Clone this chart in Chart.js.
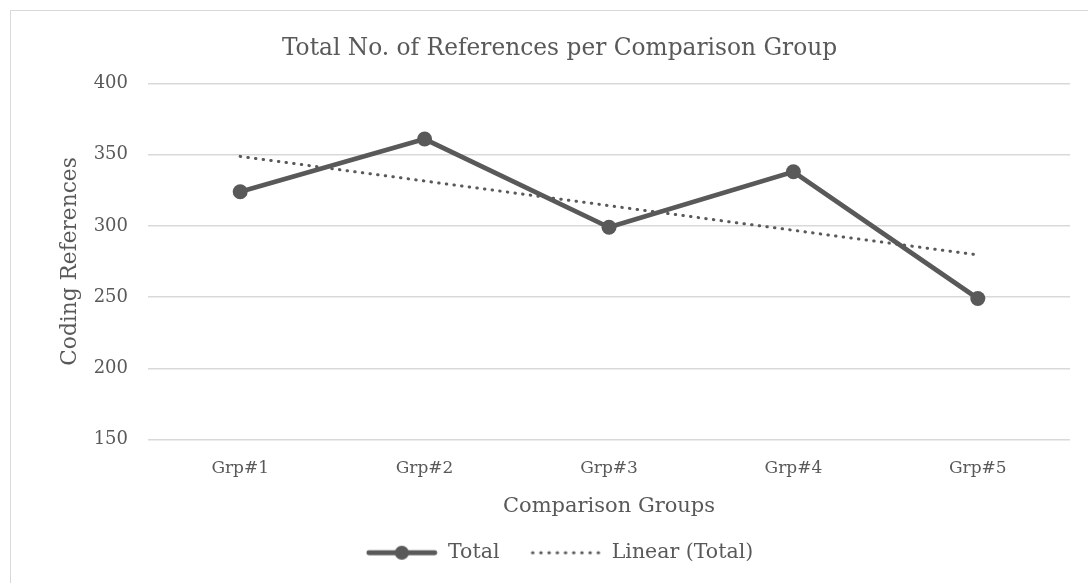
<!DOCTYPE html>
<html>
<head>
<meta charset="utf-8">
<script src="https://cdn.jsdelivr.net/npm/chart.js@4/dist/chart.umd.min.js"></script>
<style>
  html, body { margin: 0; padding: 0; background: #fff; overflow: hidden; }
  #frame {
    position: absolute; left: 10px; top: 10px;
    width: 1100px; height: 600px;
    border: 1px solid #d9d9d9; box-sizing: border-box;
  }
  #wrap { position: absolute; left: 0; top: 0; width: 1088px; height: 583px; }
</style>
</head>
<body>
<div id="frame"></div>
<div id="wrap"><canvas id="chart"></canvas></div>
<script>
// Values
const groups = ['Grp#1', 'Grp#2', 'Grp#3', 'Grp#4', 'Grp#5'];
const totals = [324, 361, 299, 338, 249];
const linearTotal = [348.8, 331.5, 314.2, 296.9, 279.6];

const yMin = 150;
const yMax = 400;
const yStep = 50;

const GRAY = '#595959';
const GRID = '#d9d9d9';
const FONT = "'DejaVu Serif', serif";

Chart.defaults.font.family = FONT;
Chart.defaults.color = GRAY;

// Legend swatches, drawn once on small canvases
function makeIcon(dotted) {
    const c = document.createElement('canvas');
    c.width = 72;
    c.height = 16;
    const g = c.getContext('2d');
    g.strokeStyle = GRAY;
    g.fillStyle = GRAY;
    g.lineCap = 'round';
    if (dotted) {
        g.lineWidth = 3;
        g.setLineDash([0.5, 7.7]);
        g.beginPath();
        g.moveTo(3, 8);
        g.lineTo(71, 8);
        g.stroke();
    } else {
        g.lineWidth = 4.8;
        g.beginPath();
        g.moveTo(3, 8);
        g.lineTo(69, 8);
        g.stroke();
        g.beginPath();
        g.arc(36, 8, 7, 0, Math.PI * 2);
        g.fill();
    }
    return c;
}
const legendIcons = [makeIcon(false), makeIcon(true)];

new Chart(document.getElementById('chart'), {
    type: 'line',
    data: {
        labels: groups,
        datasets: [
            {
                label: 'Total',
                data: totals,
                borderColor: GRAY,
                backgroundColor: GRAY,
                borderWidth: 4.8,
                pointRadius: 7.5,
                pointHoverRadius: 7.5,
                pointBorderWidth: 0,
                tension: 0,
                order: 1,
            },
            {
                label: 'Linear (Total)',
                data: linearTotal,
                borderColor: GRAY,
                borderWidth: 3,
                borderDash: [0.5, 7.2],
                borderCapStyle: 'round',
                pointRadius: 0,
                tension: 0,
                order: 2,
            },
        ],
    },
    options: {
        responsive: true,
        maintainAspectRatio: false,
        animation: false,
        layout: {
            padding: { top: 20, left: 49, right: 18, bottom: 10 },
        },
        plugins: {
            title: {
                display: true,
                text: 'Total No. of References per Comparison Group',
                color: GRAY,
                font: { size: 23.3, weight: 'normal' },
                padding: { top: 15, bottom: 20.5 },
            },
            legend: {
                position: 'bottom',
                labels: {
                    usePointStyle: true,
                    pointStyleWidth: 72,
                    boxWidth: 72,
                    boxHeight: 16,
                    padding: 30,
                    color: GRAY,
                    font: { size: 20.5 },
                    generateLabels: (chart) => chart.data.datasets.map((ds, i) => ({
                        text: ds.label,
                        pointStyle: legendIcons[i],
                        fontColor: GRAY,
                        lineWidth: 0,
                        datasetIndex: i,
                    })),
                },
            },
            tooltip: { enabled: false },
        },
        scales: {
            x: {
                offset: true,
                grid: { display: false },
                border: { display: false },
                ticks: { font: { size: 17 }, padding: 11 },
                title: {
                    display: true,
                    text: 'Comparison Groups',
                    font: { size: 21 },
                    padding: { top: 0, bottom: -7 },
                },
                afterFit: (scale) => { scale.height = 73; },
            },
            y: {
                min: yMin,
                max: yMax,
                ticks: { stepSize: yStep, font: { size: 18 }, padding: 20 },
                grid: { color: GRID, lineWidth: 1.5, drawTicks: false },
                border: { display: false },
                title: {
                    display: true,
                    text: 'Coding References',
                    font: { size: 21.7 },
                    padding: { top: 8, bottom: 0 },
                },
                afterFit: (scale) => { scale.width = 99; },
            },
        },
    },
});
</script>
</body>
</html>
